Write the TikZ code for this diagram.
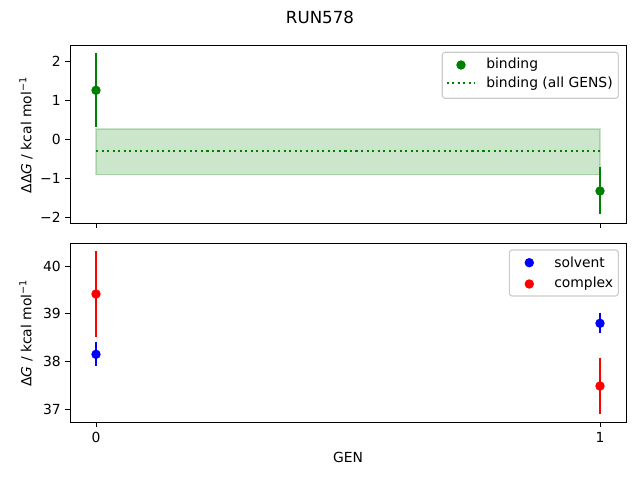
\documentclass[tikz,border=0pt]{standalone}
\usepackage{fontspec}
\setmainfont{DejaVu Sans}
\definecolor{mplgreen}{RGB}{0,128,0}
\definecolor{mplblue}{RGB}{0,0,255}
\definecolor{mplred}{RGB}{255,0,0}
\definecolor{bandfill}{RGB}{204,230,204}
\definecolor{legedge}{RGB}{204,204,204}
\begin{document}
\begin{tikzpicture}[x=0.72pt,y=-0.72pt,
  spine/.style={line width=0.65pt,black},
  tickmark/.style={line width=0.65pt,black},
  ebar/.style={line width=1.6pt},
  dot/.style={circle,inner sep=0pt,minimum size=6.8pt},
  ticklab/.style={font=\fontsize{10}{12}\selectfont,inner sep=0pt},
  legbox/.style={draw=legedge,fill=white,fill opacity=0.8,line width=0.8pt,rounded corners=2pt},
  legtext/.style={font=\fontsize{10}{12}\selectfont,anchor=west,inner sep=0pt}]
\useasboundingbox (0,0) rectangle (640,480);
% title
\node[font=\fontsize{12}{14}\selectfont] (title) at (320,17) {RUN578};
% ---------- top axes ----------
\fill[bandfill] (96,129) rectangle (600,174.7);
\draw[mplgreen,opacity=0.2,line width=1pt] (96,129) rectangle (600,174.7);
\coordinate (dl) at (96,150.7);
\coordinate (dr) at (600,150.7);
\draw[mplgreen,line width=1.5pt,dash pattern=on 1.5pt off 2.475pt] (dl) -- (dr);
% data
\coordinate (g0t) at (96,53.3); \coordinate (g0b) at (96,126.7);
\draw[ebar,mplgreen] (g0t) -- (g0b);
\node[dot,fill=mplgreen] (g0) at (96,90.3) {};
\coordinate (g1t) at (600,166.7); \coordinate (g1b) at (600,214.3);
\draw[ebar,mplgreen] (g1t) -- (g1b);
\node[dot,fill=mplgreen] (g1) at (600,191) {};
% spines
\draw[spine] (70,45) rectangle (626,223);
% y ticks
\foreach \v/\y in {2/61.7,1/100.6,0/139.5,-1/178.4,-2/217.3}{
  \draw[tickmark] (70,\y) -- (65.1,\y);
}
\node[ticklab,anchor=east] (t2) at (61,61.7) {2};
\node[ticklab,anchor=east] (t1) at (61,100.6) {1};
\node[ticklab,anchor=east] (t0) at (61,139.5) {0};
\node[ticklab,anchor=east] (tm1) at (61,178.4) {−1};
\node[ticklab,anchor=east] (tm2) at (61,217.3) {−2};
\draw[tickmark] (96,223) -- (96,227.9);
\draw[tickmark] (600,223) -- (600,227.9);
\node[rotate=90,font=\fontsize{10}{12}\selectfont] (ylab1) at (26,135) {ΔΔ\textit{G} / kcal mol\textsuperscript{−1}};
% legend top
\draw[legbox] (442.3,52.3) rectangle (618.3,98.3);
\node[dot,fill=mplgreen] (lg1) at (461,65) {};
\node[legtext] (lt1) at (486,65) {binding};
\coordinate (ll1) at (446.7,83.3); \coordinate (ll2) at (475,83.3);
\draw[mplgreen,line width=1.5pt,dash pattern=on 1.5pt off 2.475pt] (ll1) -- (ll2);
\node[legtext] (lt2) at (486,83.3) {binding (all GENS)};
% ---------- bottom axes ----------
\coordinate (r0t) at (96,251); \coordinate (r0b) at (96,336.7);
\draw[ebar,mplred] (r0t) -- (r0b);
\node[dot,fill=mplred] (r0) at (96,294) {};
\coordinate (b0t) at (96,342.3); \coordinate (b0b) at (96,365.7);
\draw[ebar,mplblue] (b0t) -- (b0b);
\node[dot,fill=mplblue] (b0) at (96,354.3) {};
\coordinate (b1t) at (600,312.7); \coordinate (b1b) at (600,332.7);
\draw[ebar,mplblue] (b1t) -- (b1b);
\node[dot,fill=mplblue] (b1) at (600,323.3) {};
\coordinate (r1t) at (600,357.7); \coordinate (r1b) at (600,413.7);
\draw[ebar,mplred] (r1t) -- (r1b);
\node[dot,fill=mplred] (r1) at (600,386) {};
\draw[spine] (70,243.3) rectangle (626,422);
\foreach \y in {266,313.7,361.4,409.1}{
  \draw[tickmark] (70,\y) -- (65.1,\y);
}
\node[ticklab,anchor=east] (u40) at (61,266) {40};
\node[ticklab,anchor=east] (u39) at (61,313.7) {39};
\node[ticklab,anchor=east] (u38) at (61,361.4) {38};
\node[ticklab,anchor=east] (u37) at (61,409.1) {37};
\draw[tickmark] (96,422) -- (96,426.9);
\draw[tickmark] (600,422) -- (600,426.9);
\node[ticklab] (x0) at (96,437) {0};
\node[ticklab] (x1) at (600,437) {1};
\node[font=\fontsize{10}{12}\selectfont] (xlab) at (348,457) {GEN};
\node[rotate=90,font=\fontsize{10}{12}\selectfont] (ylab2) at (26,333) {Δ\textit{G} / kcal mol\textsuperscript{−1}};
% legend bottom
\draw[legbox] (509.3,250) rectangle (618.3,296);
\node[dot,fill=mplblue] (lb1) at (529.3,262.7) {};
\node[legtext] (ls1) at (554,262.7) {solvent};
\node[dot,fill=mplred] (lb2) at (529.3,284) {};
\node[legtext] (ls2) at (554,284) {complex};
\end{tikzpicture}
\end{document}
